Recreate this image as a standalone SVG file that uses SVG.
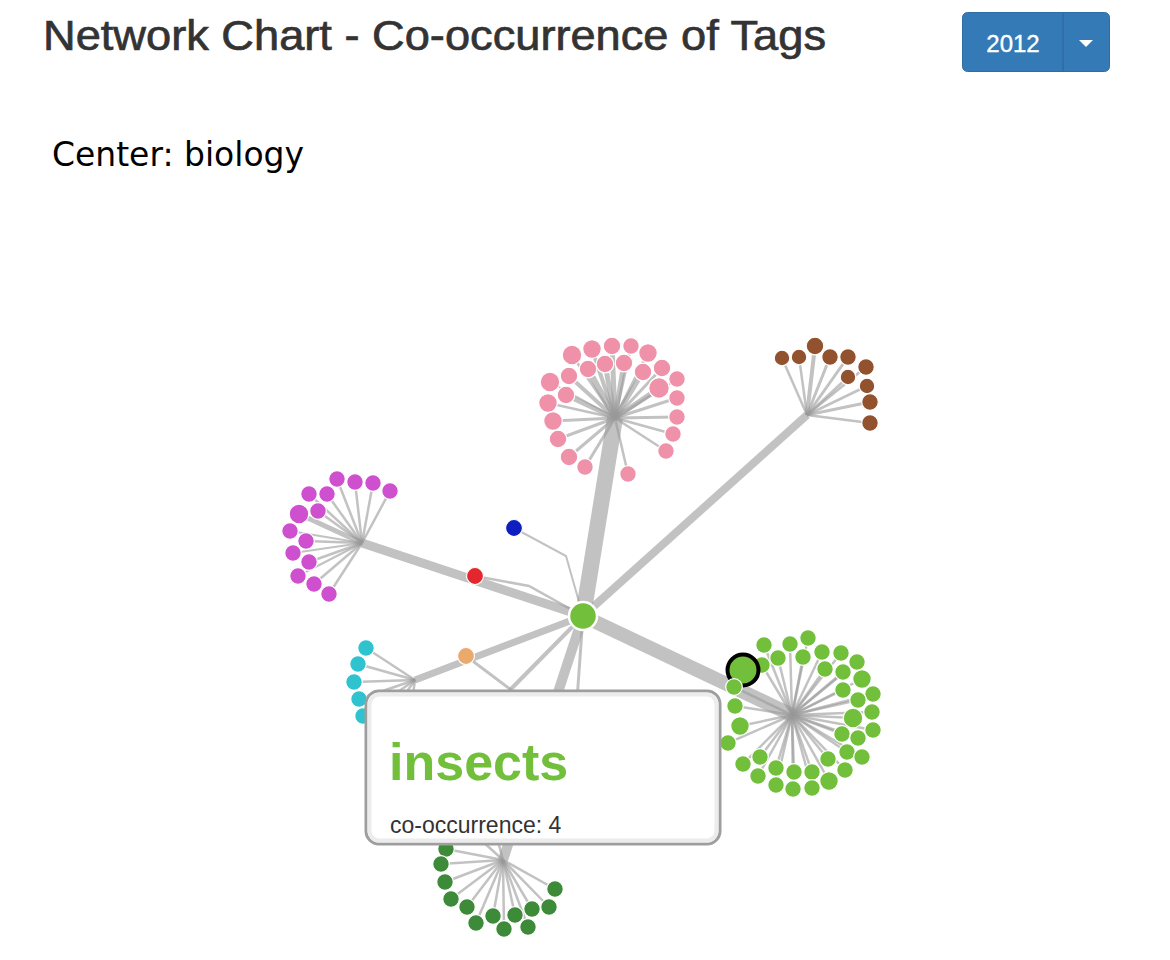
<svg xmlns="http://www.w3.org/2000/svg" width="1170" height="960" viewBox="0 0 1170 960">
<style>
.title{font-family:"Liberation Sans",Arial,sans-serif;font-size:42px;fill:#333;stroke:#333;stroke-width:0.7}
.center{font-family:"Comic Sans MS","DejaVu Sans",sans-serif;font-size:33px;fill:#000}
.btn{font-family:"Liberation Sans",Arial,sans-serif;font-size:24px;fill:#fff;stroke:#fff;stroke-width:0.4}
.e{stroke:#999;stroke-opacity:0.6;fill:none;stroke-linecap:butt}
.n{stroke:#fff;stroke-width:1.2}
.pink{fill:#f091aa}.brown{fill:#91522d}.purple{fill:#cf50cf}.cyan{fill:#2fc3cf}
.lg{fill:#72bf3b}.dg{fill:#3d8a39}
.tt1{font-family:"Liberation Sans",Arial,sans-serif;font-weight:bold;font-size:52px;fill:#72bf3b}
.tt2{font-family:"Liberation Sans",Arial,sans-serif;font-size:23px;fill:#333}
</style>
<rect width="1170" height="960" fill="#fff"/>
<g id="title"><text class="title" x="43" y="50" textLength="783" lengthAdjust="spacingAndGlyphs">Network Chart - Co-occurrence of Tags</text></g>
<g id="year-button">
<rect x="962.5" y="12.5" width="147" height="59" rx="5" fill="#337ab7" stroke="#2e6da4"/>
<line x1="1063" y1="13" x2="1063" y2="71" stroke="#2e6da4" stroke-width="1.5"/>
<text class="btn" x="1013" y="52" text-anchor="middle">2012</text>
<polygon points="1079,40 1093,40 1086,47" fill="#fff"/>
</g>
<g id="center-label"><text class="center" x="52" y="166" textLength="252" lengthAdjust="spacingAndGlyphs">Center: biology</text></g>

<g id="connectors">
<line class="e" x1="583" y1="616" x2="615" y2="418" stroke-width="16"/>
<line class="e" x1="583" y1="616" x2="807" y2="415" stroke-width="8"/>
<line class="e" x1="583" y1="616" x2="792" y2="715" stroke-width="14"/>
<line class="e" x1="583" y1="616" x2="362" y2="543" stroke-width="9"/>
<line class="e" x1="583" y1="616" x2="415" y2="680" stroke-width="7"/>
<line class="e" x1="583" y1="616" x2="503" y2="860" stroke-width="10"/>
<line class="e" x1="583" y1="616" x2="572" y2="770" stroke-width="3"/>
<line class="e" x1="583" y1="616" x2="510" y2="690" stroke-width="4"/>
<polyline class="e" points="466,656 510,689 490,720" stroke-width="3"/>
<polyline class="e" points="475,576 529,586 583,616" stroke-width="2.5"/>
<polyline class="e" points="514,528 566,556 583,616" stroke-width="2"/>
<g>
<line class="e" x1="615" y1="418" x2="572" y2="355" stroke-width="3"/>
<line class="e" x1="615" y1="418" x2="592" y2="349" stroke-width="4"/>
<line class="e" x1="615" y1="418" x2="612" y2="346" stroke-width="5"/>
<line class="e" x1="615" y1="418" x2="631" y2="346" stroke-width="3"/>
<line class="e" x1="615" y1="418" x2="648" y2="353" stroke-width="3"/>
<line class="e" x1="615" y1="418" x2="550" y2="382" stroke-width="2"/>
<line class="e" x1="615" y1="418" x2="569" y2="376" stroke-width="4"/>
<line class="e" x1="615" y1="418" x2="588" y2="369" stroke-width="6"/>
<line class="e" x1="615" y1="418" x2="605" y2="364" stroke-width="5"/>
<line class="e" x1="615" y1="418" x2="624" y2="363" stroke-width="5"/>
<line class="e" x1="615" y1="418" x2="643" y2="372" stroke-width="5"/>
<line class="e" x1="615" y1="418" x2="662" y2="368" stroke-width="3"/>
<line class="e" x1="615" y1="418" x2="677" y2="379" stroke-width="3"/>
<line class="e" x1="615" y1="418" x2="548" y2="403" stroke-width="2.5"/>
<line class="e" x1="615" y1="418" x2="566" y2="395" stroke-width="5"/>
<line class="e" x1="615" y1="418" x2="659" y2="388" stroke-width="5"/>
<line class="e" x1="615" y1="418" x2="677" y2="398" stroke-width="3"/>
<line class="e" x1="615" y1="418" x2="553" y2="421" stroke-width="3"/>
<line class="e" x1="615" y1="418" x2="677" y2="417" stroke-width="3"/>
<line class="e" x1="615" y1="418" x2="558" y2="439" stroke-width="3"/>
<line class="e" x1="615" y1="418" x2="673" y2="434" stroke-width="2.5"/>
<line class="e" x1="615" y1="418" x2="569" y2="457" stroke-width="3"/>
<line class="e" x1="615" y1="418" x2="666" y2="451" stroke-width="2.5"/>
<line class="e" x1="615" y1="418" x2="585" y2="467" stroke-width="3"/>
<line class="e" x1="615" y1="418" x2="628" y2="474" stroke-width="2.5"/>
</g>
<g>
<line class="e" x1="807" y1="415" x2="782" y2="358" stroke-width="2.5"/>
<line class="e" x1="807" y1="415" x2="799" y2="357" stroke-width="2.5"/>
<line class="e" x1="807" y1="415" x2="815" y2="346" stroke-width="4"/>
<line class="e" x1="807" y1="415" x2="830" y2="357" stroke-width="3"/>
<line class="e" x1="807" y1="415" x2="848" y2="357" stroke-width="3"/>
<line class="e" x1="807" y1="415" x2="866" y2="367" stroke-width="2.5"/>
<line class="e" x1="807" y1="415" x2="848" y2="377" stroke-width="2.5"/>
<line class="e" x1="807" y1="415" x2="867" y2="386" stroke-width="2.5"/>
<line class="e" x1="807" y1="415" x2="870" y2="402" stroke-width="3"/>
<line class="e" x1="807" y1="415" x2="870" y2="423" stroke-width="2.5"/>
</g>
<g>
<line class="e" x1="362" y1="543" x2="337" y2="479" stroke-width="2.5"/>
<line class="e" x1="362" y1="543" x2="355" y2="482" stroke-width="2.5"/>
<line class="e" x1="362" y1="543" x2="373" y2="483" stroke-width="2.5"/>
<line class="e" x1="362" y1="543" x2="390" y2="491" stroke-width="2.5"/>
<line class="e" x1="362" y1="543" x2="309" y2="494" stroke-width="2.5"/>
<line class="e" x1="362" y1="543" x2="327" y2="494" stroke-width="2.5"/>
<line class="e" x1="362" y1="543" x2="299" y2="514" stroke-width="5"/>
<line class="e" x1="362" y1="543" x2="318" y2="511" stroke-width="2.5"/>
<line class="e" x1="362" y1="543" x2="290" y2="531" stroke-width="2"/>
<line class="e" x1="362" y1="543" x2="306" y2="541" stroke-width="2.5"/>
<line class="e" x1="362" y1="543" x2="293" y2="553" stroke-width="2"/>
<line class="e" x1="362" y1="543" x2="309" y2="562" stroke-width="2.5"/>
<line class="e" x1="362" y1="543" x2="298" y2="576" stroke-width="2"/>
<line class="e" x1="362" y1="543" x2="314" y2="584" stroke-width="2.5"/>
<line class="e" x1="362" y1="543" x2="329" y2="594" stroke-width="2.5"/>
</g>
<g>
<line class="e" x1="415" y1="680" x2="366" y2="648" stroke-width="2.5"/>
<line class="e" x1="415" y1="680" x2="358" y2="664" stroke-width="2.5"/>
<line class="e" x1="415" y1="680" x2="354" y2="682" stroke-width="2.5"/>
<line class="e" x1="415" y1="680" x2="359" y2="699" stroke-width="2.5"/>
<line class="e" x1="415" y1="680" x2="363" y2="716" stroke-width="2.5"/>
<line class="e" x1="415" y1="680" x2="380" y2="730" stroke-width="2.5"/>
<line class="e" x1="415" y1="680" x2="408" y2="730" stroke-width="2.5"/>
</g>
<g stroke-width="2.5">
<line class="e" x1="792" y1="715" x2="764" y2="645"/>
<line class="e" x1="792" y1="715" x2="790" y2="644"/>
<line class="e" x1="792" y1="715" x2="808" y2="638"/>
<line class="e" x1="792" y1="715" x2="822" y2="652"/>
<line class="e" x1="792" y1="715" x2="841" y2="653"/>
<line class="e" x1="792" y1="715" x2="857" y2="662"/>
<line class="e" x1="792" y1="715" x2="778" y2="658"/>
<line class="e" x1="792" y1="715" x2="803" y2="657"/>
<line class="e" x1="792" y1="715" x2="825" y2="669"/>
<line class="e" x1="792" y1="715" x2="843" y2="672"/>
<line class="e" x1="792" y1="715" x2="862" y2="679"/>
<line class="e" x1="792" y1="715" x2="873" y2="694"/>
<line class="e" x1="792" y1="715" x2="843" y2="690"/>
<line class="e" x1="792" y1="715" x2="858" y2="700"/>
<line class="e" x1="792" y1="715" x2="872" y2="712"/>
<line class="e" x1="792" y1="715" x2="853" y2="718"/>
<line class="e" x1="792" y1="715" x2="873" y2="730"/>
<line class="e" x1="792" y1="715" x2="842" y2="734"/>
<line class="e" x1="792" y1="715" x2="858" y2="738"/>
<line class="e" x1="792" y1="715" x2="847" y2="752"/>
<line class="e" x1="792" y1="715" x2="862" y2="757"/>
<line class="e" x1="792" y1="715" x2="828" y2="759"/>
<line class="e" x1="792" y1="715" x2="845" y2="770"/>
<line class="e" x1="792" y1="715" x2="812" y2="772"/>
<line class="e" x1="792" y1="715" x2="829" y2="781"/>
<line class="e" x1="792" y1="715" x2="794" y2="772"/>
<line class="e" x1="792" y1="715" x2="812" y2="788"/>
<line class="e" x1="792" y1="715" x2="793" y2="789"/>
<line class="e" x1="792" y1="715" x2="776" y2="768"/>
<line class="e" x1="792" y1="715" x2="776" y2="785"/>
<line class="e" x1="792" y1="715" x2="760" y2="757"/>
<line class="e" x1="792" y1="715" x2="758" y2="776"/>
<line class="e" x1="792" y1="715" x2="743" y2="764"/>
<line class="e" x1="792" y1="715" x2="762" y2="665"/>
<line class="e" x1="792" y1="715" x2="734" y2="687"/>
<line class="e" x1="792" y1="715" x2="735" y2="706"/>
<line class="e" x1="792" y1="715" x2="740" y2="726"/>
<line class="e" x1="792" y1="715" x2="728" y2="743"/>
</g>
<g stroke-width="2.5">
<line class="e" x1="503" y1="860" x2="446" y2="849"/>
<line class="e" x1="503" y1="860" x2="441" y2="864"/>
<line class="e" x1="503" y1="860" x2="445" y2="882"/>
<line class="e" x1="503" y1="860" x2="451" y2="899"/>
<line class="e" x1="503" y1="860" x2="467" y2="907"/>
<line class="e" x1="503" y1="860" x2="476" y2="923"/>
<line class="e" x1="503" y1="860" x2="493" y2="916"/>
<line class="e" x1="503" y1="860" x2="504" y2="929"/>
<line class="e" x1="503" y1="860" x2="515" y2="915"/>
<line class="e" x1="503" y1="860" x2="528" y2="927"/>
<line class="e" x1="503" y1="860" x2="532" y2="909"/>
<line class="e" x1="503" y1="860" x2="549" y2="907"/>
<line class="e" x1="503" y1="860" x2="555" y2="889"/>
<line class="e" x1="503" y1="860" x2="470" y2="830"/>
<line class="e" x1="503" y1="860" x2="495" y2="830"/>
</g>
</g>

<g id="node-pink-cluster">
<circle class="n pink" cx="572" cy="355" r="9.8"/>
<circle class="n pink" cx="592" cy="349" r="9.3"/>
<circle class="n pink" cx="612" cy="346" r="8.8"/>
<circle class="n pink" cx="631" cy="346" r="8.3"/>
<circle class="n pink" cx="648" cy="353" r="9.3"/>
<circle class="n pink" cx="550" cy="382" r="9.8"/>
<circle class="n pink" cx="569" cy="376" r="8.8"/>
<circle class="n pink" cx="588" cy="369" r="8.8"/>
<circle class="n pink" cx="605" cy="364" r="8.8"/>
<circle class="n pink" cx="624" cy="363" r="8.8"/>
<circle class="n pink" cx="643" cy="372" r="8.8"/>
<circle class="n pink" cx="662" cy="368" r="8.8"/>
<circle class="n pink" cx="677" cy="379" r="8.3"/>
<circle class="n pink" cx="548" cy="403" r="9.3"/>
<circle class="n pink" cx="566" cy="395" r="8.8"/>
<circle class="n pink" cx="659" cy="388" r="10.3"/>
<circle class="n pink" cx="677" cy="398" r="8.3"/>
<circle class="n pink" cx="553" cy="421" r="9.3"/>
<circle class="n pink" cx="677" cy="417" r="8.3"/>
<circle class="n pink" cx="558" cy="439" r="8.8"/>
<circle class="n pink" cx="673" cy="434" r="8.3"/>
<circle class="n pink" cx="569" cy="457" r="8.8"/>
<circle class="n pink" cx="666" cy="451" r="8.3"/>
<circle class="n pink" cx="585" cy="467" r="8.3"/>
<circle class="n pink" cx="628" cy="474" r="8.3"/>
</g>
<g id="node-brown-cluster">
<circle class="n brown" cx="782" cy="358" r="7.8"/>
<circle class="n brown" cx="799" cy="357" r="7.8"/>
<circle class="n brown" cx="815" cy="346" r="8.8"/>
<circle class="n brown" cx="830" cy="357" r="8.3"/>
<circle class="n brown" cx="848" cy="357" r="8.3"/>
<circle class="n brown" cx="866" cy="367" r="8.3"/>
<circle class="n brown" cx="848" cy="377" r="7.8"/>
<circle class="n brown" cx="867" cy="386" r="7.8"/>
<circle class="n brown" cx="870" cy="402" r="8.3"/>
<circle class="n brown" cx="870" cy="423" r="8.3"/>
</g>
<g id="node-purple-cluster">
<circle class="n purple" cx="337" cy="479" r="8.3"/>
<circle class="n purple" cx="355" cy="482" r="8.3"/>
<circle class="n purple" cx="373" cy="483" r="8.3"/>
<circle class="n purple" cx="390" cy="491" r="8.3"/>
<circle class="n purple" cx="309" cy="494" r="8.3"/>
<circle class="n purple" cx="327" cy="494" r="8.3"/>
<circle class="n purple" cx="299" cy="514" r="9.8"/>
<circle class="n purple" cx="318" cy="511" r="8.3"/>
<circle class="n purple" cx="290" cy="531" r="8.3"/>
<circle class="n purple" cx="306" cy="541" r="8.3"/>
<circle class="n purple" cx="293" cy="553" r="8.3"/>
<circle class="n purple" cx="309" cy="562" r="8.3"/>
<circle class="n purple" cx="298" cy="576" r="8.3"/>
<circle class="n purple" cx="314" cy="584" r="8.3"/>
<circle class="n purple" cx="329" cy="594" r="8.3"/>
</g>
<g id="node-cyan-cluster">
<circle class="n cyan" cx="366" cy="648" r="8.3"/>
<circle class="n cyan" cx="358" cy="664" r="8.3"/>
<circle class="n cyan" cx="354" cy="682" r="8.3"/>
<circle class="n cyan" cx="359" cy="699" r="8.3"/>
<circle class="n cyan" cx="363" cy="716" r="8.3"/>
</g>
<g id="node-red"><circle class="n" cx="475" cy="576" r="8.5" fill="#e4262f"/></g>
<g id="node-blue"><circle class="n" cx="514" cy="528" r="8.5" fill="#0f1fbf"/></g>
<g id="node-orange"><circle class="n" cx="466" cy="656" r="8.5" fill="#eaaa6e"/></g>
<g id="node-biology"><circle cx="583" cy="616" r="14" fill="#72bf3b" stroke="#fff" stroke-width="2.5"/></g>
<g id="node-lightgreen-cluster">
<circle class="n lg" cx="764" cy="645" r="8.3"/>
<circle class="n lg" cx="790" cy="644" r="8.3"/>
<circle class="n lg" cx="808" cy="638" r="8.3"/>
<circle class="n lg" cx="822" cy="652" r="8.3"/>
<circle class="n lg" cx="841" cy="653" r="8.3"/>
<circle class="n lg" cx="857" cy="662" r="8.3"/>
<circle class="n lg" cx="778" cy="658" r="8.3"/>
<circle class="n lg" cx="803" cy="657" r="8.3"/>
<circle class="n lg" cx="825" cy="669" r="8.3"/>
<circle class="n lg" cx="843" cy="672" r="8.3"/>
<circle class="n lg" cx="862" cy="679" r="9.3"/>
<circle class="n lg" cx="873" cy="694" r="8.3"/>
<circle class="n lg" cx="843" cy="690" r="8.3"/>
<circle class="n lg" cx="858" cy="700" r="8.3"/>
<circle class="n lg" cx="872" cy="712" r="8.3"/>
<circle class="n lg" cx="853" cy="718" r="9.8"/>
<circle class="n lg" cx="873" cy="730" r="8.3"/>
<circle class="n lg" cx="842" cy="734" r="8.3"/>
<circle class="n lg" cx="858" cy="738" r="8.3"/>
<circle class="n lg" cx="847" cy="752" r="8.3"/>
<circle class="n lg" cx="862" cy="757" r="8.3"/>
<circle class="n lg" cx="828" cy="759" r="8.3"/>
<circle class="n lg" cx="845" cy="770" r="8.3"/>
<circle class="n lg" cx="812" cy="772" r="8.3"/>
<circle class="n lg" cx="829" cy="781" r="9.3"/>
<circle class="n lg" cx="794" cy="772" r="8.3"/>
<circle class="n lg" cx="812" cy="788" r="8.3"/>
<circle class="n lg" cx="793" cy="789" r="8.3"/>
<circle class="n lg" cx="776" cy="768" r="8.3"/>
<circle class="n lg" cx="776" cy="785" r="8.3"/>
<circle class="n lg" cx="760" cy="757" r="8.3"/>
<circle class="n lg" cx="758" cy="776" r="8.3"/>
<circle class="n lg" cx="743" cy="764" r="8.3"/>
<circle class="n lg" cx="762" cy="665" r="8.3"/>
</g>
<g id="node-insects"><circle cx="743" cy="670" r="15.5" fill="#72bf3b" stroke="#000" stroke-width="4"/></g>
<g id="node-lightgreen-front">
<circle class="n lg" cx="734" cy="687" r="8.3"/>
<circle class="n lg" cx="735" cy="706" r="8.3"/>
<circle class="n lg" cx="740" cy="726" r="9.3"/>
<circle class="n lg" cx="728" cy="743" r="8.3"/>
</g>
<g id="node-darkgreen-cluster">
<circle class="n dg" cx="446" cy="849" r="8.3"/>
<circle class="n dg" cx="441" cy="864" r="8.3"/>
<circle class="n dg" cx="445" cy="882" r="8.3"/>
<circle class="n dg" cx="451" cy="899" r="8.3"/>
<circle class="n dg" cx="467" cy="907" r="8.3"/>
<circle class="n dg" cx="476" cy="923" r="8.3"/>
<circle class="n dg" cx="493" cy="916" r="8.3"/>
<circle class="n dg" cx="504" cy="929" r="8.3"/>
<circle class="n dg" cx="515" cy="915" r="8.3"/>
<circle class="n dg" cx="528" cy="927" r="8.3"/>
<circle class="n dg" cx="532" cy="909" r="8.3"/>
<circle class="n dg" cx="549" cy="907" r="8.3"/>
<circle class="n dg" cx="555" cy="889" r="8.3"/>
</g>

<g id="tooltip">
<rect x="366" y="691" width="354" height="153" rx="13" fill="#fff" stroke="#9e9e9e" stroke-width="3"/>
<rect x="369.5" y="694.5" width="347" height="146" rx="10" fill="none" stroke="#ececec" stroke-width="4"/>
<text class="tt1" x="389" y="780">insects</text>
<text class="tt2" x="390" y="833">co-occurrence: 4</text>
</g>
</svg>
